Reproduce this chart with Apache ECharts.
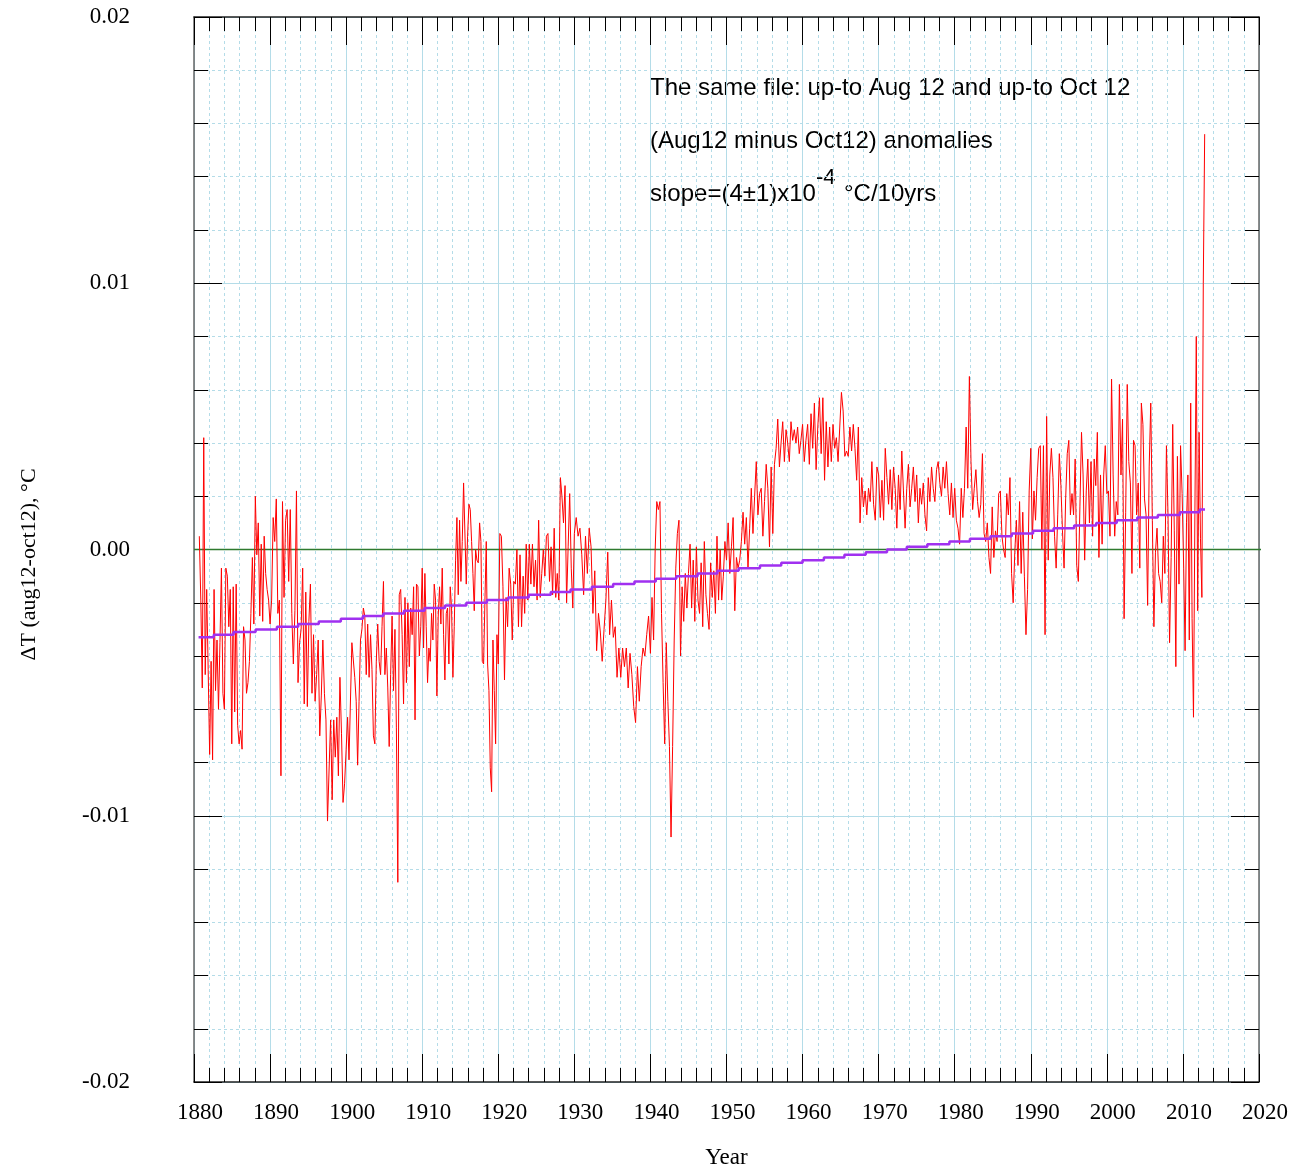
<!DOCTYPE html>
<html>
<head>
<meta charset="utf-8">
<script src="https://cdn.jsdelivr.net/npm/echarts@6/dist/echarts.min.js"></script>
<style>
  html, body { margin: 0; padding: 0; background: #fff; }
  #chart { width: 1303px; height: 1169px; }
</style>
</head>
<body>
<div id="chart"></div>
<script>
// monthly (Aug12 - Oct12) anomalies, in units of 0.001 degC
const dT1880s = [0.5,-1.9,-5.2,4.2,-4.7,-1.5,-4.5,-7.7,-4.2,-7.9,-1.5,-5.3,-3.4,-6.0,-3.5,-0.7,-5.4,-6.0,-0.7,-1.0,-2.9,-1.5,-7.3,-1.4,-6.1,-1.3,-6.6,-7.3,-6.8,-7.5,-2.9,-3.4,-5.4,-5.0,-4.2,-2.4,-0.3,-2.8,2.0,-0.2,1.0,-2.5,0.2,-2.7,0.5,-0.9,-1.5,-1.9]
const dT1890s = [-2.8,-1.9,1.2,0.3,1.9,-2.4,-1.9,-8.5,1.8,-1.8,1.1,1.5,-1.2,1.5,-2.4,-4.3,-2.3,2.2,-5.0,-3.5,-3.0,-0.7,-5.8,-1.6,-5.9,-2.7,-1.3,-5.4,-3.2,-5.7,-4.7,-3.4,-7.0,-5.5,-3.4,-5.4,-6.4,-10.2,-10.2,-6.4,-9.4,-6.4,-7.8,-6.3,-8.5,-4.8,-6.9,-9.5,-8.8]
const dT1900s = [-7.5,-6.3,-7.9,-7.9,-3.5,-3.5,-4.8,-5.7,-8.1,-5.7,-3.4,-3.0,-2.2,-2.5,-4.7,-2.8,-4.8,-3.2,-4.5,-7.0,-7.3,-4.2,-2.8,-4.2,-4.7,-2.9,-1.2,-4.7,-3.7,-5.2,-7.4,-4.7,-2.5,-5.3,-3.0,-6.7,-12.5,-1.7,-1.5,-3.2,-5.8,-1.8,-5.0,-2.0,-4.4,-2.2,-3.2,-1.4,-6.4,-1.3,-1.4,-4.0,-2.9]
const dT1910s = [-0.7,-3.7,-0.9,-2.9,-5.0,-3.7,-4.2,-2.4,-3.4,-1.3,-1.9,-5.5,-2.5,-1.4,-2.8,-0.7,-3.2,-4.9,-2.4,-2.2,-4.3,-1.4,-2.2,-4.8,-2.9,-0.4,1.2,-1.7,1.1,-1.2,0.3,2.5,2.5,-1.3,0.5,1.7,1.5,0.3,-0.9,-2.3,0.0,-0.4,-0.5,1.0,0.3,-4.2,-4.3,-1.9,0.3,-4.3,-5.3,-8.2,-9.1,-3.4,-5.3,-7.3,-3.2]
const dT1920s = [-4.3,0.6,0.5,-1.4,-4.9,-1.8,-2.9,-0.7,-1.3,-3.4,-1.2,-1.3,0.0,-2.9,-0.2,-2.9,-1.0,-2.4,0.2,-1.9,0.2,-1.3,0.2,-1.4,-0.4,-1.9,1.1,-1.8,-0.9,0.0,-1.0,0.5,0.6,-1.2,0.1,-1.7,0.8,-1.8,-0.9,-1.9,2.7,2.0,1.0,2.4,-2.0,0.1,2.1,-0.7,-2.2]
const dT1930s = [0.6,1.2,0.5,0.8,-0.2,-1.7,0.5,-0.9,0.8,0.1,-2.4,-0.8,-3.8,-2.4,-3.1,-4.2,-3.0,-1.9,-0.1,-3.2,-1.9,-3.3,-2.9,-4.8,-3.7,-4.8,-3.7,-4.4,-3.7,-5.2,-3.9,-4.7,-5.9,-6.5,-4.4,-5.7,-4.4,-3.7,-4.0,-3.2,-2.5]
const dT1940s = [-3.9,-1.8,-3.4,0.0,1.8,1.5,1.8,-2.4,-5.0,-7.3,-3.5,-5.7,-7.4,-10.8,-7.4,-3.4,-0.7,0.6,1.1,-4.0,-1.4,-2.7,-0.9,-2.2,-0.9,0.2,-2.2,-0.4,-2.7,0.1,-1.9,-2.4,-0.5,-2.9,0.3,-1.7,-2.4,-3.0,-0.5,-1.8,-0.8,-2.4,0.5,-1.9,0.0,-1.9,-1.0,0.3]
const dT1950s = [-0.4,1.0,-0.9,0.1,1.2,-2.3,-0.3,-0.7,-0.4,0.3,1.4,0.2,1.2,-0.7,0.8,2.3,0.6,2.0,3.3,1.3,2.1,2.3,0.5,1.8,3.2,2.3,0.1,3.1,0.6,3.2,3.8,4.9,3.1,4.0,4.8,3.3,4.5,4.0,3.3,4.8,4.1,4.5,4.0,4.6,3.6,4.1]
const dT1960s = [4.7,3.3,4.1,4.7,3.2,5.1,3.8,5.5,3.0,4.6,5.7,3.6,5.7,2.6,4.8,3.1,4.6,3.3,4.7,3.8,4.2,3.3,4.6,5.9,5.2,3.5,3.7,3.5,4.6,3.7,4.7,3.8,2.6,4.6,1.0,2.7,1.6,2.2,1.3,2.3,1.8,3.3,1.7,1.1,3.1]
const dT1970s = [2.8,1.2,2.6,1.1,3.8,2.7,1.7,3.0,1.5,3.1,2.3,0.8,2.8,1.5,3.7,2.2,0.8,2.3,3.2,1.6,2.3,3.1,1.8,2.8,1.0,2.3,1.7,2.5,1.3,0.7,2.7,1.8,3.1,2.3,1.8,3.0,3.3,2.5,2.0,3.1,2.3,3.3,2.1,1.3,2.5,1.2]
const dT1980s = [2.3,1.1,0.8,0.2,2.3,1.2,2.3,4.6,2.3,6.5,3.3,1.5,2.3,3.0,1.8,1.2,1.7,3.6,0.6,0.3,1.0,-0.3,-0.9,1.6,-0.3,0.7,0.3,2.1]
const dT1986s = [2.2,0.5,0.0,-0.3,2.1,1.3,2.7,-0.9,-2.0,-0.1,1.1,-0.6,1.8,-0.9,1.4,-1.0,-3.2,-1.5,2.2]
const dT1990s = [3.8,0.4,2.2,1.1,2.7,3.8,3.9,0.0,3.9,-3.2,5.0,-0.4,2.8,3.8,2.7,0.5,-0.7,1.3,3.6,2.4,0.7,-0.7,1.9,3.6,4.1,1.3,2.1,1.3,3.4,-0.6,-1.2,1.6,4.4,2.8,-0.4,2.2,3.4,1.0,3.3,0.5,3.4,2.4,4.4,-0.3,2.8,0.2,2.8,3.9]
const dT2000s = [2.1,2.2,0.5,6.4,2.8,0.5,1.8,1.3,6.2,2.8,4.9,-2.6,1.4,6.2,3.3,2.5,-0.9,4.1,3.9,1.3,2.5,-0.7,5.5,4.7,1.9,1.3,-2.1,3.1,5.5,1.1,-2.9,-0.1,0.8,-0.9,-1.2,-2.0,0.5,-0.9,3.9,1.3,-3.5,-0.3,4.7,0.7,-4.4,3.5,-1.3,3.9,2.1]
const dT2010s = [-0.7,-3.8,1.0,2.8,-3.4,5.5,-2.6,-6.3,1.3,8.0,-2.3,4.4,0.4,-1.8,10.0,15.6]

const segValues = [dT1880s, dT1890s, dT1900s, dT1910s, dT1920s, dT1930s, dT1940s, dT1950s, dT1960s, dT1970s, dT1980s, dT1986s, dT1990s, dT2000s, dT2010s]
const segStarts = [1880.7, 1890, 1900, 1910, 1920, 1930, 1940, 1950, 1960, 1970, 1980, 1986, 1990, 2000, 2010.1]
const segEnds = [1890, 1900, 1910, 1920, 1930, 1940, 1950, 1960, 1970, 1980, 1986, 1990, 2000, 2010.1, 2012.86]

// linear fit, printed rounded to 1e-4 (hence the staircase)
const trendYears = [1880.6, 1882.6, 1885.2, 1888.1, 1890.9, 1893.7, 1896.4, 1899.3, 1902.2, 1904.9,
  1907.6, 1910.3, 1913.0, 1915.8, 1918.5, 1921.3, 1924.0, 1926.9, 1929.5, 1932.3,
  1935.1, 1937.9, 1940.7, 1943.4, 1946.2, 1948.8, 1951.6, 1954.4, 1957.2, 1960.0,
  1962.8, 1965.5, 1968.3, 1971.1, 1973.7, 1976.4, 1979.3, 1982.0, 1984.7, 1987.5,
  1990.3, 1993.0, 1995.7, 1998.6, 2001.3, 2004.0, 2006.7, 2009.6, 2012.2]
const trendValues = [-33, -32, -31, -30, -29, -28, -27, -26, -25, -24,
  -23, -22, -21, -20, -19, -18, -17, -16, -15, -14,
  -13, -12, -11, -10, -9, -8, -7, -6, -5, -4,
  -3, -2, -1, 0, 1, 2, 3, 4, 5, 6,
  7, 8, 9, 10, 11, 12, 13, 14, 15]
const trendEnd = 2012.9

const yTicks = [-0.02, -0.01, 0.00, 0.01, 0.02]

const anomalyData = []
segValues.forEach((vals, k) => {
  const last = k === segValues.length - 1
  const step = (segEnds[k] - segStarts[k]) / (last ? vals.length - 1 : vals.length)
  vals.forEach((v, i) => {
    anomalyData.push([segStarts[k] + i * step, v / 1000])
  })
})

const trendData = trendYears.map((yr, i) => [yr, trendValues[i] / 10000])
trendData.push([trendEnd, trendValues[trendValues.length - 1] / 10000])

const serif = 'Liberation Serif'
const gridBlue = '#b4dce8'

const baseX = {
  type: 'value',
  min: 1880,
  max: 2020,
  interval: 10,
  axisLine: { show: true, onZero: false, lineStyle: { color: '#222', width: 1.5 } },
  axisTick: { show: true, inside: true, length: 28, lineStyle: { color: '#000', width: 1 } },
  minorTick: { show: true, splitNumber: 5, length: 14, lineStyle: { color: '#000', width: 1 } }
}
const baseY = {
  type: 'value',
  min: yTicks[0],
  max: yTicks[yTicks.length - 1],
  interval: 0.01,
  axisLine: { show: true, onZero: false, lineStyle: { color: '#666', width: 1.5 } },
  axisTick: { show: true, inside: true, length: 28, lineStyle: { color: '#000', width: 1 } },
  minorTick: { show: true, splitNumber: 5, length: 14, lineStyle: { color: '#000', width: 1 } }
}

const option = {
  backgroundColor: '#fff',
  animation: false,
  grid: { left: 194, right: 44, top: 17, bottom: 87, outerBoundsMode: 'none', containLabel: false },
  xAxis: [
    Object.assign({}, baseX, {
      position: 'bottom',
      name: 'Year',
      nameLocation: 'middle',
      nameGap: 64,
      nameTextStyle: { fontFamily: serif, fontSize: 23, color: '#000' },
      splitLine: { show: true, lineStyle: { color: gridBlue, width: 1 } },
      minorSplitLine: { show: true, lineStyle: { color: gridBlue, width: 1, type: [3, 3] } },
      axisLabel: {
        margin: 19, fontFamily: serif, fontSize: 23, color: '#000',
        padding: [0, 0, 0, 12], showMinLabel: true, showMaxLabel: true,
        formatter: (v) => String(v)
      }
    }),
    Object.assign({}, baseX, {
      position: 'top',
      axisLabel: { show: false },
      splitLine: { show: false }
    })
  ],
  yAxis: [
    Object.assign({}, baseY, {
      position: 'left',
      name: 'ΔT (aug12-oct12), °C',
      nameLocation: 'middle',
      nameGap: 154,
      nameRotate: 90,
      nameTextStyle: { fontFamily: serif, fontSize: 22, color: '#000', padding: [0, 30, 0, 0] },
      splitLine: { show: true, lineStyle: { color: gridBlue, width: 1 } },
      minorSplitLine: { show: true, lineStyle: { color: gridBlue, width: 1, type: [3, 3] } },
      axisLabel: {
        margin: 64, fontFamily: serif, fontSize: 23, color: '#000',
        showMinLabel: true, showMaxLabel: true,
        formatter: (v) => v.toFixed(2)
      }
    }),
    Object.assign({}, baseY, {
      position: 'right',
      axisLabel: { show: false },
      splitLine: { show: false }
    })
  ],
  series: [
    {
      name: 'zero',
      type: 'line',
      data: [[1880, 0], [2020.4, 0]],
      showSymbol: false,
      clip: false,
      lineStyle: { color: '#2e7a2e', width: 1.5 },
      z: 1
    },
    {
      name: 'Aug12 minus Oct12',
      type: 'line',
      data: anomalyData,
      showSymbol: false,
      lineStyle: { color: '#ff0000', width: 1 },
      z: 2
    },
    {
      name: 'trend',
      type: 'line',
      step: 'end',
      data: trendData,
      showSymbol: false,
      lineStyle: { color: '#a030f0', width: 2.5 },
      z: 3
    }
  ],
  graphic: [
    { type: 'text', left: 650, top: 76, style: { text: 'The same file: up-to Aug 12 and up-to Oct 12', font: '24px "Liberation Sans"', fill: '#000' } },
    { type: 'text', left: 650, top: 129, style: { text: '(Aug12 minus Oct12) anomalies', font: '24px "Liberation Sans"', fill: '#000' } },
    { type: 'text', left: 650, top: 182, style: { text: 'slope=(4±1)x10', font: '24px "Liberation Sans"', fill: '#000' } },
    { type: 'text', left: 816, top: 167, style: { text: '-4', font: '22px "Liberation Sans"', fill: '#000' } },
    { type: 'text', left: 844, top: 182, style: { text: '°C/10yrs', font: '24px "Liberation Sans"', fill: '#000' } }
  ]
}

const chart = echarts.init(document.getElementById('chart'))
chart.setOption(option)
</script>
</body>
</html>
